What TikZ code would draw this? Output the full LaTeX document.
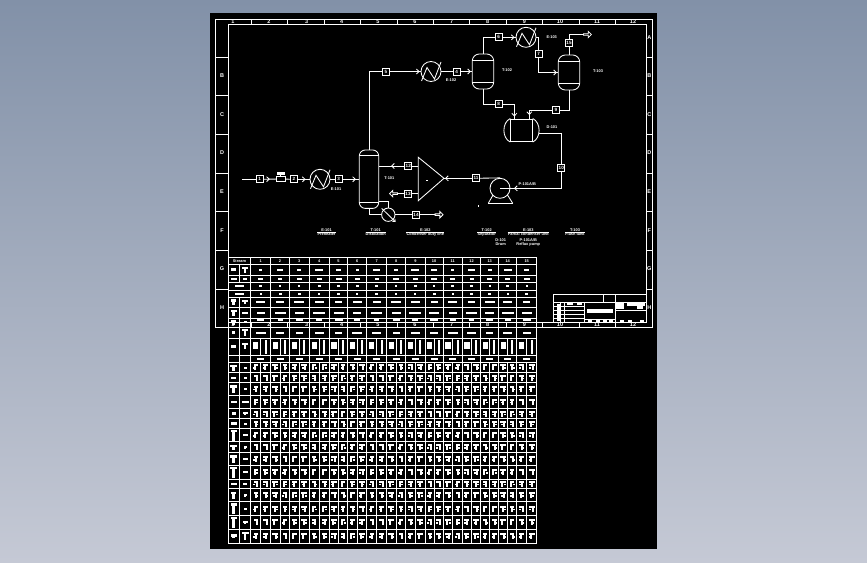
\documentclass[tikz,border=0pt]{standalone}
\usepackage{fontspec}
\setmainfont{Liberation Sans}
\usetikzlibrary{shapes,arrows,arrows.meta,positioning,calc,decorations.markings}
\newcommand{\tagfont}{\fontsize{3.9}{4}\selectfont\bfseries}
\newcommand{\boxfont}{\fontsize{4.6}{5}\selectfont\bfseries}
\newcommand{\zonefont}{\fontsize{5.5}{6}\selectfont\bfseries}
\definecolor{sheetblack}{RGB}{0,0,0}
\definecolor{bgtop}{RGB}{130,145,168}
\definecolor{bgbottom}{RGB}{197,201,213}
\def\colpairs{250.7/270.7,270.7/289.3,289.3/309.3,309.3/329.3,329.3/347.7,347.7/366.7,366.7/386.7,386.7/405.7,405.7/425,425/443.3,443.3/462.3,462.3/480.7,480.7/498.7,498.7/516.7,516.7/536.7}
\tikzset{
    flow/.style={white,line width=0.85pt},
    grid/.style={white,line width=0.8pt},
    tipend/.style={postaction={decorate,decoration={markings,mark=at position #1 with {\arrow{Straight Barb[length=2.6pt,width=5pt]}}}}},
    tagbox/.style={draw=white,fill=black,text=white,line width=0.85pt,minimum size=7pt,inner sep=0pt,font=\boxfont},
    lbl/.style={text=white,inner sep=0pt,font=\tagfont},
    zone/.style={text=white,inner sep=0pt,font=\zonefont},
    hx/.style={circle,draw=white,line width=0.85pt,minimum size=20pt,inner sep=0pt},
    vessel/.style={draw=white,line width=0.85pt,rounded corners=6pt,inner sep=0pt},
    openarrow/.style={single arrow,draw=white,fill=black,line width=0.8pt,inner sep=0pt,minimum height=8pt,minimum width=6.5pt,single arrow head extend=1.2pt},
    hxlines/.pic={
        \draw[flow] (-9.5,9.5) -- (-4,-4) -- (3.5,7.5) -- (10,-9.5);
    }
}
\begin{document}
\begin{tikzpicture}[x=1pt,y=-1pt]
    % Backdrop and sheet
    \shade[top color=bgtop,bottom color=bgbottom] (0,0) rectangle (867,562);
    \fill[sheetblack] (210,13) rectangle (657,549);

    % Drawing frame
    \draw[grid] (215.5,19.5) rectangle (652,327.3);
    \draw[grid] (228.5,24.3) rectangle (646.7,322);
    \foreach \y in {57.3,95.3,134.3,173.3,211.3,250,289.3} {
        \draw[grid] (215.5,\y) -- (228.5,\y);
        \draw[grid] (646.7,\y) -- (652,\y);
    }
    \foreach \x in {251.5,287.5,324.3,360.3,397.3,433.3,469.3,506.3,542.3,579.5,615.5} {
        \draw[grid] (\x,19.5) -- (\x,24.3);
        \draw[grid] (\x,322) -- (\x,327.3);
    }
    \foreach \n/\x in {1/233,2/269,3/306.7,4/341.7,5/378,6/415,7/451.7,8/487.7,9/524.3,10/560,11/597,12/633} {
        \node[zone] (top\n) at (\x,22) {\n};
        \node[zone] (bot\n) at (\x,324.8) {\n};
    }
    \foreach \n/\y in {B/76,C/115,D/153,E/192,F/230.5,G/269,H/307.7} {
        \node[zone] (left\n) at (222,\y) {\n};
        \node[zone] (right\n) at (649.3,\y) {\n};
    }
    \node[zone] (rightA) at (649.3,38) {A};

    % Feed train
    \coordinate (feed) at (242,179.3);
    \node[tagbox] (s1) at (259.7,179.3) {1};
    \node[draw=white,line width=0.85pt,minimum width=8.6pt,minimum height=5.6pt,inner sep=0pt] (valve) at (280.7,179) {};
    \fill[white] (277,172) rectangle (285,174.5);
    \draw[flow] (valve.north) -- (280.7,174);
    \node[tagbox] (s2) at (294,179.3) {2};
    \node[hx] (h1) at (320,179.3) {};
    \pic at (h1) {hxlines};
    \node[tagbox] (s3) at (338.7,179.3) {3};
    \draw[flow] (feed) -- (s1);
    \draw[flow,tipend=0.5] (s1) -- (valve);
    \draw[flow] (valve) -- (s2);
    \draw[flow,tipend=-4pt] (s2) -- (h1);
    \draw[flow] (h1) -- (s3);

    % Column with reboiler
    \node[vessel,minimum width=19.4pt,minimum height=58.4pt] (col) at (369,179.2) {};
    \draw[flow] (col.west |- 0,155.7) -- (col.east |- 0,155.7);
    \draw[flow] (col.west |- 0,202) -- (col.east |- 0,202);
    \draw[flow,tipend=-3pt] (s3) -- (col.west |- s3);
    \node[circle,draw=white,line width=0.85pt,minimum size=13.4pt,inner sep=0pt] (reb) at (388.3,214.7) {};
    \coordinate (rebtop) at (378.7,201.7);
    \coordinate (rebin) at (381.7,208.4);
    \coordinate (rebend) at (395.6,222);
    \draw[flow] (col.south) |- (reb.west);
    \draw[flow] (rebtop) -| (reb.north);
    \draw[flow,-{Straight Barb[length=2pt,width=3.5pt]}] (rebin) -- (rebend);
    \node[tagbox] (s14) at (416,214.7) {14};
    \node[openarrow] (out3) at (438.7,214.7) {};
    \draw[flow] (reb.east) -- (s14);
    \draw[flow] (s14) -- (out3);

    % Splitter
    \coordinate (mixa) at (418.3,157.3);
    \coordinate (mixb) at (418.3,200.7);
    \coordinate (mixtip) at (444,178.3);
    \draw[flow] (mixa) -- (mixtip) -- (mixb) -- cycle;
    \fill[white] (426,179.5) rectangle ++(1.5,1.5);
    \coordinate (mixup) at (418.3,166);
    \coordinate (mixlow) at (418.3,193.7);
    \node[tagbox] (s12) at (408.3,166) {12};
    \node[tagbox] (s13) at (408,193.7) {13};
    \node[openarrow,shape border rotate=180] (out2) at (394,193.7) {};
    \draw[flow] (mixup) -- (s12);
    \draw[flow,tipend=-12pt] (s12) -- (col.east |- s12);
    \draw[flow] (mixlow) -- (s13);
    \draw[flow] (s13) -- (out2);

    % Overhead condenser and first drum
    \node[tagbox] (s5) at (386,71.5) {5};
    \node[hx] (h2) at (431,71.5) {};
    \pic at (h2) {hxlines};
    \node[tagbox] (s4) at (456.7,71.5) {4};
    \node[vessel,minimum width=21.4pt,minimum height=35pt,rounded corners=7pt] (v1) at (483,71.5) {};
    \draw[flow] (v1.west |- 0,60) -- (v1.east |- 0,60);
    \draw[flow] (v1.west |- 0,82.7) -- (v1.east |- 0,82.7);
    \draw[flow] (col.north) |- (s5);
    \draw[flow,tipend=-1pt] (s5) -- (h2);
    \draw[flow] (h2) -- (s4);
    \draw[flow,tipend=-1pt] (s4) -- (v1.west);

    % Second condenser and drum
    \node[tagbox] (s6) at (498.7,37.3) {6};
    \node[hx] (h3) at (526,37.3) {};
    \pic at (h3) {hxlines};
    \node[tagbox] (s7) at (538.7,54) {7};
    \node[vessel,minimum width=21.4pt,minimum height=35pt,rounded corners=7pt] (v2) at (569,72.5) {};
    \draw[flow] (v2.west |- 0,61.7) -- (v2.east |- 0,61.7);
    \draw[flow] (v2.west |- 0,83.3) -- (v2.east |- 0,83.3);
    \draw[flow] (v1.north) |- (s6);
    \draw[flow,tipend=-1pt] (s6) -- (h3);
    \draw[flow] (h3.east) -| (s7);
    \draw[flow,tipend=-1pt] (s7) |- (v2.west);
    \node[tagbox] (s15) at (569,43.3) {15};
    \node[openarrow] (out1) at (587,34.5) {};
    \draw[flow] (v2.north) -- (s15);
    \draw[flow] (s15) |- (out1);

    % Receiver
    \node[draw=white,line width=0.85pt,minimum width=21.6pt,minimum height=22.7pt,inner sep=0pt] (drum) at (521.5,130.3) {};
    \draw[flow] (drum.north west) .. controls +(-8.5,4) and +(-8.5,-4) .. (drum.south west);
    \draw[flow] (drum.north east) .. controls +(8.5,4) and +(8.5,-4) .. (drum.south east);
    \coordinate (druma) at (514.3,119);
    \coordinate (drumb) at (529.3,119);
    \coordinate (drumout) at (538.7,133.3);
    \node[tagbox] (s8) at (498.7,104.3) {8};
    \node[tagbox] (s9) at (556,110) {9};
    \draw[flow] (v1.south) |- (s8);
    \draw[flow,tipend=-2.5pt] (s8) -| (druma);
    \draw[flow] (v2.south) |- (s9);
    \draw[flow,tipend=-4pt] (s9) -| (drumb);

    % Pump loop
    \node[circle,draw=white,line width=0.85pt,minimum size=20pt,inner sep=0pt] (pump) at (500,188.3) {};
    \coordinate (pumpl) at (488.3,203.3);
    \coordinate (pumpr) at (512.7,203.3);
    \draw[flow] (pumpl) -- (pumpr);
    \draw[flow] (pumpl) -- (493,195);
    \draw[flow] (pumpr) -- (507.5,195);
    \node[tagbox] (s10) at (561.3,168.3) {10};
    \node[tagbox] (s11) at (476,178.3) {11};
    \draw[flow] (drumout) -| (s10);
    \draw[flow,tipend=-14pt] (s10) |- (pump.center);
    \draw[flow] (pump.north) -- (s11);
    \draw[flow,tipend=-1pt] (s11) -- (mixtip);
    \fill[white] (478,205) rectangle ++(1,1.5);

    % Equipment tags
    \node[lbl] (tag1) at (336,189) {E-101};
    \node[lbl] (tag2) at (389.3,177.7) {T-101};
    \node[lbl] (tag3) at (451,80) {E-102};
    \node[lbl] (tag4) at (507,70) {T-102};
    \node[lbl] (tag5) at (551.7,36.7) {E-103};
    \node[lbl] (tag6) at (598,71) {T-103};
    \node[lbl] (tag7) at (552,127) {D-101};
    \node[lbl] (tag8) at (527.3,184) {P-101A/B};

    % Captions along the foot of the flowsheet
    \foreach \n/\x/\up/\low in {1/326.5/E-101/Preheater,2/375.7/T-101/Distillation,3/425.3/E-102/Condenser duty line,4/486.7/T-102/Separator,5/528.3/E-103/Partial condenser unit,6/575/T-103/Flash tank} {
        \node[lbl] (capa\n) at (\x,229.7) {\up};
        \node[lbl] (capb\n) at (\x,234.3) {\low};
        \draw[white,line width=0.5pt] (capb\n.north west) -- (capb\n.north east);
    }
    \node[lbl] (capa7) at (500.7,240) {D-101};
    \node[lbl] (capb7) at (500.7,244.3) {Drum};
    \node[lbl] (capa8) at (528.3,240) {P-101A/B};
    \node[lbl] (capb8) at (528.3,244.3) {Reflux pump};

    % Stream table grid
    \foreach \y in {257.3,264,275,282.3,290,297.3,307.3,318.3,327.3,338,355.3,362.3,372.5,382.7,395,408.3,418.7,428.3,441.7,452.3,465.7,479,488.3,501.7,515.7,529,543.3} {
        \draw[grid] (228.3,\y) -- (536.7,\y);
    }
    \foreach \x in {228.3,250.7,270.7,289.3,309.3,329.3,347.7,366.7,386.7,405.7,425,443.3,462.3,480.7,498.7,516.7,536.7} {
        \draw[grid] (\x,257.3) -- (\x,543.3);
    }
    \draw[grid] (239.3,264) -- (239.3,282.3);
    \draw[grid] (239.3,297.3) -- (239.3,543.3);
    \foreach \xa/\xb in \colpairs {
        \pgfmathsetmacro\xm{(\xa+\xb)/2}
        \draw[grid] (\xm,338) -- (\xm,355.3);
        \draw[grid] (\xm,362.3) -- (\xm,543.3);
    }

    % Stream table entries (too small to read)
    \node[lbl] (hdr) at (239.5,260.7) {Stream};
    \foreach \xa/\xb [count=\n] in \colpairs {
        \pgfmathsetmacro\xm{(\xa+\xb)/2}
        \node[lbl] (hd\n) at (\xm,260.7) {\n};
        \foreach \y/\wa/\wb [count=\i] in {269.5/3/5,278.7/4/2,286/2/1,293.7/2/1,302.3/7/3,312.8/8/4,320/5/3,332.7/7/3} {
            \pgfmathsetmacro\wd{\wa+mod(\n*3+\i*7,5)/4*\wb}
            \fill[white] (\xm-\wd/2,\y-1) rectangle (\xm+\wd/2,\y+1);
        }
        \fill[white] (\xm-3.5,358) rectangle (\xm+3.5,359.7);
        % the split row under the frame
        \pgfmathsetmacro\xc{(\xa+\xm)/2}
        \pgfmathsetmacro\xd{(\xm+\xb)/2}
        \fill[white] (\xc-2.7,342) rectangle (\xc+2.7,349);
        \fill[white] (\xd-1,340) rectangle (\xd+1,353.5);
        \foreach \ya/\yb [count=\r] in {362.3/372.5,372.5/382.7,382.7/395,395/408.3,408.3/418.7,418.7/428.3,428.3/441.7,441.7/452.3,452.3/465.7,465.7/479,479/488.3,488.3/501.7,501.7/515.7,515.7/529,529/543.3} {
            \pgfmathsetmacro\ym{(\ya+\yb)/2}
            \foreach \xg [count=\k] in {\xc,\xd} {
                \pgfmathsetmacro\off{mod(\n*7+\r*5+\k*3,3)-1}
                \pgfmathsetmacro\sid{mod(\n*5+\r*11+\k*2,2)*3-2.5}
                \pgfmathsetmacro\bar{2+mod(\n*2+\r*3+\k,3)*0.5}
                \fill[white] (\xg-\bar,\ym-3) rectangle (\xg+\bar,\ym-1);
                \fill[white] (\xg-1+\off,\ym-1) rectangle (\xg+1+\off,\ym+3);
                \fill[white] (\xg+\sid,\ym) rectangle (\xg+\sid+2,\ym+1.5);
            }
        }
    }

    % Left-hand columns of the table
    \foreach \y/\wa/\ha/\wb/\hb in {269.5/5/3/6/6,278.7/6/2/4/2,302.3/5/6/6/4,312.8/6/6/6/2,322/5/5/3/2,332.7/3/3/6/7,346/5/2/6/6,367.5/7/6/3/2,377.5/5/2/3/2,389/7/8/3/2,401.7/6/2/7/2,413.5/4/3/5/3,423.5/6/3/3/2,435/6/11/5/2,447/7/5/3/3,459/7/8/5/2,472.3/7/11/5/2,483.7/6/2/4/2,495/5/7/3/3,508.7/6/11/3/2,522.3/6/11/5/3,536/6/4/7/8} {
        \fill[white] (233.8-\wa/2,\y-\ha/2) rectangle (233.8+\wa/2,\y-\ha/2+2.5);
        \fill[white] (232.3,\y-\ha/2) rectangle (235.3,\y+\ha/2);
        \fill[white] (245-\wb/2,\y-\hb/2) rectangle (245+\wb/2,\y-\hb/2+2);
        \fill[white] (244,\y-\hb/2) rectangle (246,\y+\hb/2);
    }
    \foreach \y in {286,293.7} {
        \fill[white] (235,\y-1) rectangle (244,\y+1);
    }

    % Title block
    \draw[grid] (553.3,322) -- (553.3,294.7) -- (646,294.7);
    \draw[grid] (553.3,302.3) -- (646,302.3);
    \draw[grid] (603.3,294.7) -- (603.3,302.3);
    \draw[grid] (615.3,294.7) -- (615.3,322);
    \draw[grid] (584.3,302.3) -- (584.3,322);
    \draw[grid] (615.3,310) -- (646,310);
    \draw[grid] (584.3,319) -- (615.3,319);
    \foreach \y in {306,310,314,318} {
        \draw[grid] (553.3,\y) -- (584.3,\y);
    }
    \draw[grid] (560.7,302.3) -- (560.7,322);
    \draw[grid] (564,302.3) -- (564,322);
    \fill[white] (587,309) rectangle (613,313.3);
    \fill[white] (616.3,303.3) rectangle (624.3,309);
    \fill[white] (627,303.3) rectangle (645,305.5);
    \fill[white] (637,306) rectangle (643,309);
    \fill[white] (557,303.5) rectangle (560,320.5);
    \fill[white] (567,303) rectangle (573,305);
    \fill[white] (577,303) rectangle (582,305);
    \foreach \x in {588,596,603,609,620,628,640} {
        \fill[white] (\x,320) rectangle ++(3.5,1.6);
    }
\end{tikzpicture}
\end{document}
